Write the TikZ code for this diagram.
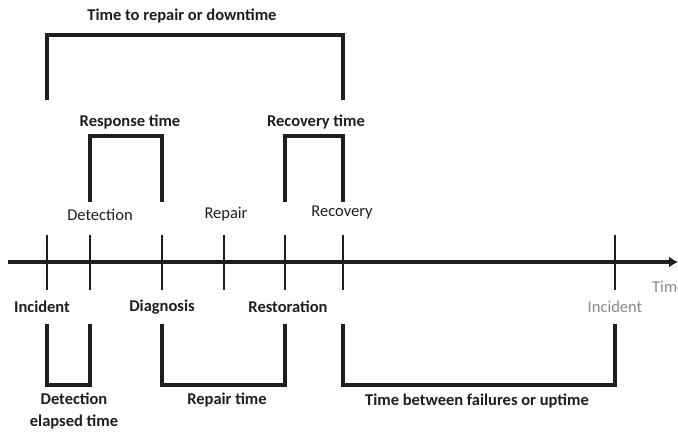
\documentclass[tikz,border=0pt]{standalone}
\usepackage{fontspec}
\setmainfont{Carlito}
\usetikzlibrary{arrows.meta,positioning}
\definecolor{inkdark}{HTML}{1E1E1E}
\definecolor{inkgrey}{HTML}{8A8A8A}

\begin{document}
\begin{tikzpicture}[x=1pt,y=-1pt,>=Latex,
    lbl/.style={font=\bfseries\fontsize{16.5}{22}\selectfont,text=inkdark,inner sep=0pt,align=center},
    plain/.style={font=\fontsize{16.5}{20}\selectfont,text=inkdark,inner sep=0pt},
    faint/.style={font=\fontsize{16.5}{20}\selectfont,text=inkgrey,inner sep=0pt},
    bracket/.style={draw=inkdark,line width=3.5pt,line join=miter,line cap=rect},
    tickmark/.style={draw=inkdark,line width=2.5pt}]
  \useasboundingbox (0,0) rectangle (678,433);

  % time axis
  \coordinate (start) at (8,262);
  \coordinate (end) at (678,262);
  \draw[draw=inkdark,line width=4pt,-{Latex[length=9pt,width=11pt]}] (start) -- (end);

  % events on the axis
  \foreach \name/\x in {inc/47,det/90,diag/162,rep/224,rest/285,rec/343,inc2/615} {
    \coordinate (\name) at (\x,262);
    \draw[tickmark] (\x,235) -- (\x,290);
  }

  % levels of the brackets
  \coordinate (toplvl) at (0,35);
  \coordinate (toplow) at (0,98);
  \coordinate (midlvl) at (0,136);
  \coordinate (midlow) at (0,200);
  \coordinate (botlvl) at (0,385);
  \coordinate (bothigh) at (0,326);

  % downtime
  \draw[bracket] (inc |- toplow) -- (inc |- toplvl) -- (rec |- toplvl) -- (rec |- toplow);
  \node[lbl] (down) at (182,16) {Time to repair or downtime};

  % response and recovery
  \draw[bracket] (det |- midlow) -- (det |- midlvl) -- (diag |- midlvl) -- (diag |- midlow);
  \draw[bracket] (rest |- midlow) -- (rest |- midlvl) -- (rec |- midlvl) -- (rec |- midlow);
  \node[lbl] (resp) at (130,122) {Response time};
  \node[lbl] (recov) at (316,122) {Recovery time};

  % event names
  \node[plain] (ldet) at (100,215) {Detection};
  \node[plain] (lrep) at (226,214) {Repair};
  \node[plain] (lrec) at (342,213) {Recovery};
  \node[lbl] (linc) at (42,307) {Incident};
  \node[lbl] (ldiag) at (162,307) {Diagnosis};
  \node[lbl] (lrest) at (288,307) {Restoration};
  \node[faint] (linc2) at (615,307) {Incident};
  \node[faint,anchor=west] (ltime) at (652,287) {Time};

  % lower brackets
  \draw[bracket] (inc |- bothigh) -- (inc |- botlvl) -- (det |- botlvl) -- (det |- bothigh);
  \draw[bracket] (diag |- bothigh) -- (diag |- botlvl) -- (rest |- botlvl) -- (rest |- bothigh);
  \draw[bracket] (rec |- bothigh) -- (rec |- botlvl) -- (inc2 |- botlvl) -- (inc2 |- bothigh);
  \node[lbl] (delapsed) at (74,411) {Detection\\elapsed time};
  \node[lbl] (repair) at (227,400) {Repair time};
  \node[lbl] (uptime) at (477,401) {Time between failures or uptime};
\end{tikzpicture}
\end{document}
